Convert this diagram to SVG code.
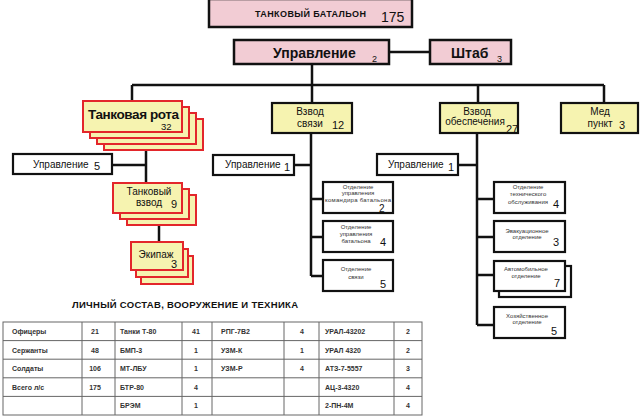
<svg xmlns="http://www.w3.org/2000/svg" width="640" height="416" viewBox="0 0 640 416">
<style>
text{font-family:"Liberation Sans",Arial,sans-serif;fill:#111}
.pink{fill:#f2ccd4;stroke:#111;stroke-width:2.5}
.yel{fill:#f6f3b0;stroke:#111;stroke-width:2.2}
.stk{fill:#f6f3b0;stroke:#e3262b;stroke-width:2}
.wht{fill:#fff;stroke:#111;stroke-width:2.2}
.ln{stroke:#111;stroke-width:2.5;fill:none}
.b14{font-size:14px;font-weight:bold}
.n10{font-size:10px}
.n11{font-size:11px}
.sm{font-size:6px;fill:#333}
.tb{fill:none;stroke:#666;stroke-width:1}
.tt{font-size:7px;font-weight:bold;fill:#333}
</style>
<rect width="640" height="416" fill="#fff"/>
<g id="connectors">
<path class="ln" d="M389 52H430"/>
<path class="ln" d="M312 64V85M132 85H604M132 85V101M312 85V103M478 85V103M604 85V103"/>
<path class="ln" d="M146 150V183M112 165H146"/>
<path class="ln" d="M159 225V242"/>
<path class="ln" d="M311 133V276M294 165H311M311 199H323M311 237H323M311 276H323"/>
<path class="ln" d="M477 133V325M458 165H477M477 199H494M477 237H494M477 275H494M477 325H494"/>
</g>
<g id="battalion">
<rect class="pink" x="209" y="-1" width="203" height="28"/>
<text x="255" y="17" font-size="9" font-weight="bold" textLength="111">ТАНКОВЫЙ БАТАЛЬОН</text>
<text x="381" y="22" font-size="14">175</text>
</g>
<g id="upravlenie">
<rect class="pink" x="234" y="40" width="155" height="24"/>
<text class="b14" x="273" y="58">Управление</text>
<text x="372" y="62" font-size="9">2</text>
</g>
<g id="shtab">
<rect class="pink" x="430" y="40" width="81" height="24"/>
<text class="b14" x="451" y="58">Штаб</text>
<text x="497" y="62" font-size="9">3</text>
</g>
<g id="tank-company">
<rect class="stk" x="104" y="119" width="99" height="31"/>
<rect class="stk" x="97" y="113" width="99" height="31"/>
<rect class="stk" x="90" y="107" width="99" height="31"/>
<rect class="stk" x="83" y="101" width="99" height="31"/>
<text x="88" y="118.5" font-size="13.5" font-weight="bold" textLength="91">Танковая рота</text>
<text x="161" y="130" font-size="9.5">32</text>
</g>
<g id="signal-platoon">
<rect class="yel" x="272" y="103" width="80" height="30"/>
<text class="n10" x="310" y="115" text-anchor="middle">Взвод</text>
<text class="n10" x="310" y="127" text-anchor="middle">связи</text>
<text class="n11" x="332" y="129">12</text>
</g>
<g id="supply-platoon">
<rect class="yel" x="440" y="103" width="78" height="30"/>
<text class="n10" x="477" y="115" text-anchor="middle">Взвод</text>
<text class="n10" x="475" y="125" text-anchor="middle">обеспечения</text>
<text class="n11" x="506" y="133">27</text>
</g>
<g id="med">
<rect class="yel" x="561" y="103" width="77" height="30"/>
<text class="n10" x="600" y="115" text-anchor="middle">Мед</text>
<text class="n10" x="600" y="127" text-anchor="middle">пункт</text>
<text class="n11" x="619" y="129">3</text>
</g>
<g id="company-hq">
<rect class="wht" x="13" y="154" width="99" height="20"/>
<text class="n10" x="33" y="168">Управление</text>
<text class="n11" x="94" y="170">5</text>
</g>
<g id="tank-platoon">
<rect class="stk" x="127" y="195" width="69" height="30"/>
<rect class="stk" x="120" y="189" width="69" height="30"/>
<rect class="stk" x="113" y="183" width="69" height="30"/>
<text class="n10" x="149" y="195" text-anchor="middle">Танковый</text>
<text class="n10" x="149" y="206" text-anchor="middle">взвод</text>
<text class="n11" x="171" y="208">9</text>
</g>
<g id="crew">
<rect class="stk" x="141" y="256" width="52" height="28"/>
<rect class="stk" x="136" y="249" width="52" height="28"/>
<rect class="stk" x="131" y="242" width="52" height="28"/>
<text class="n10" x="156" y="258" text-anchor="middle">Экипаж</text>
<text class="n11" x="171" y="268">3</text>
</g>
<g id="signal-hq">
<rect class="wht" x="213" y="155" width="81" height="20"/>
<text class="n10" x="225" y="168">Управление</text>
<text class="n11" x="284" y="171">1</text>
</g>
<g id="sig-1">
<rect class="wht" x="323" y="182" width="70" height="31"/>
<text class="sm" x="358" y="188.5" text-anchor="middle">Отделение</text>
<text class="sm" x="358" y="195" text-anchor="middle">управления</text>
<text class="sm" x="358" y="201.5" text-anchor="middle" textLength="66">командира батальона</text>
<text x="379" y="212" font-size="10">2</text>
</g>
<g id="sig-2">
<rect class="wht" x="323" y="221" width="70" height="31"/>
<text class="sm" x="356" y="229" text-anchor="middle">Отделение</text>
<text class="sm" x="356" y="236" text-anchor="middle">управления</text>
<text class="sm" x="356" y="243" text-anchor="middle">батальона</text>
<text class="n11" x="380" y="246">4</text>
</g>
<g id="sig-3">
<rect class="wht" x="323" y="260" width="70" height="31"/>
<text class="sm" x="356" y="271" text-anchor="middle">Отделение</text>
<text class="sm" x="356" y="279" text-anchor="middle">связи</text>
<text class="n11" x="380" y="288">5</text>
</g>
<g id="supply-hq">
<rect class="wht" x="377" y="154" width="81" height="21"/>
<text class="n10" x="388" y="168">Управление</text>
<text class="n11" x="448" y="171">1</text>
</g>
<g id="sup-1">
<rect class="wht" x="494" y="182" width="71" height="31"/>
<text class="sm" x="528" y="189" text-anchor="middle">Отделение</text>
<text class="sm" x="528" y="196" text-anchor="middle">технического</text>
<text class="sm" x="528" y="204" text-anchor="middle">обслуживания</text>
<text class="n11" x="553" y="208">4</text>
</g>
<g id="sup-2">
<rect class="wht" x="494" y="221" width="71" height="31"/>
<text class="sm" x="527" y="233" text-anchor="middle">Эвакуационное</text>
<text class="sm" x="527" y="239" text-anchor="middle">отделение</text>
<text class="n11" x="553" y="246">3</text>
</g>
<g id="sup-3">
<rect class="wht" x="499" y="266" width="72" height="31"/>
<rect class="wht" x="494" y="261" width="71" height="30"/>
<text class="sm" x="526" y="271" text-anchor="middle">Автомобильное</text>
<text class="sm" x="526" y="278" text-anchor="middle">отделение</text>
<text class="n11" x="554" y="287">7</text>
</g>
<g id="sup-4">
<rect class="wht" x="494" y="307" width="71" height="31"/>
<text class="sm" x="527" y="318" text-anchor="middle">Хозяйственное</text>
<text class="sm" x="527" y="324" text-anchor="middle">отделение</text>
<text class="n11" x="551" y="335">5</text>
</g>
<g id="table">
<text x="72" y="308" font-size="9.5" font-weight="bold" textLength="226">ЛИЧНЫЙ СОСТАВ, ВООРУЖЕНИЕ И ТЕХНИКА</text>
<rect class="tb" x="3" y="322" width="419" height="93" stroke-width="1.5"/>
<path class="tb" d="M3 340.6H422M3 359.2H422M3 377.8H422M3 396.4H422M82 322V415M115 322V415M182 322V415M212 322V415M284 322V415M319 322V415M394 322V415"/>
<g class="tt">
<text class="tt" x="12" y="334">Офицеры</text>
<text class="tt" x="12" y="352.5">Сержанты</text>
<text class="tt" x="12" y="371">Солдаты</text>
<text class="tt" x="12" y="389.5">Всего л/с</text>
<text class="tt" x="95" y="334" text-anchor="middle">21</text>
<text class="tt" x="95" y="352.5" text-anchor="middle">48</text>
<text class="tt" x="95" y="371" text-anchor="middle">106</text>
<text class="tt" x="95" y="389.5" text-anchor="middle">175</text>
<text class="tt" x="120" y="334">Танки Т-80</text>
<text class="tt" x="120" y="352.5">БМП-3</text>
<text class="tt" x="120" y="371">МТ-ЛБУ</text>
<text class="tt" x="120" y="389.5">БТР-80</text>
<text class="tt" x="120" y="408">БРЭМ</text>
<text class="tt" x="196" y="334" text-anchor="middle">41</text>
<text class="tt" x="196" y="352.5" text-anchor="middle">1</text>
<text class="tt" x="196" y="371" text-anchor="middle">1</text>
<text class="tt" x="196" y="389.5" text-anchor="middle">4</text>
<text class="tt" x="196" y="408" text-anchor="middle">1</text>
<text class="tt" x="221" y="334">РПГ-7В2</text>
<text class="tt" x="221" y="352.5">УЗМ-К</text>
<text class="tt" x="221" y="371">УЗМ-Р</text>
<text class="tt" x="302" y="334" text-anchor="middle">4</text>
<text class="tt" x="302" y="352.5" text-anchor="middle">1</text>
<text class="tt" x="302" y="371" text-anchor="middle">4</text>
<text class="tt" x="325" y="334">УРАЛ-43202</text>
<text class="tt" x="325" y="352.5">УРАЛ 4320</text>
<text class="tt" x="325" y="371">АТЗ-7-5557</text>
<text class="tt" x="325" y="389.5">АЦ-3-4320</text>
<text class="tt" x="325" y="408">2-ПН-4М</text>
<text class="tt" x="408" y="334" text-anchor="middle">2</text>
<text class="tt" x="408" y="352.5" text-anchor="middle">2</text>
<text class="tt" x="408" y="371" text-anchor="middle">3</text>
<text class="tt" x="408" y="389.5" text-anchor="middle">4</text>
<text class="tt" x="408" y="408" text-anchor="middle">4</text>
</g>
</g>
</svg>
